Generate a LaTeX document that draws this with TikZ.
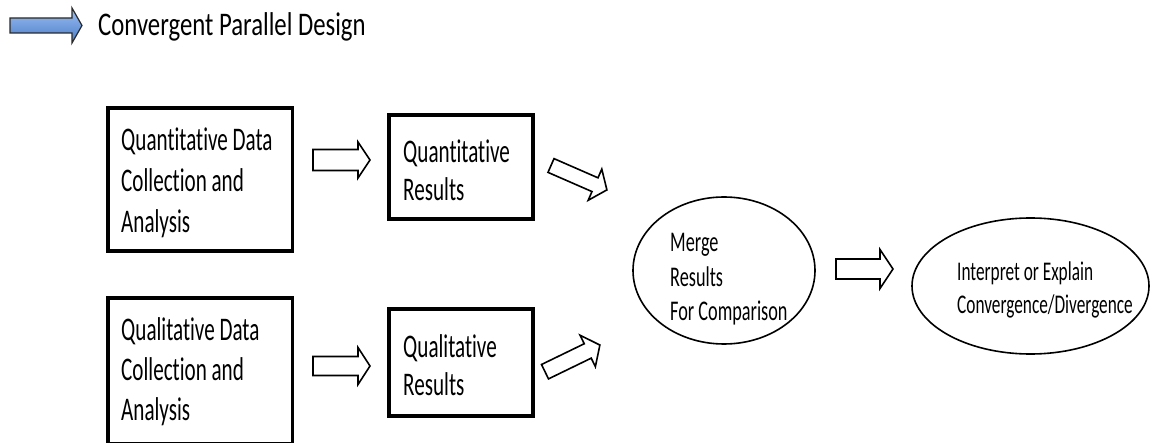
\documentclass[tikz,border=0pt]{standalone}
\usepackage{fontspec}
\usetikzlibrary{shapes.geometric}
\newfontfamily\cf[FakeStretch=0.64, Ligatures=NoCommon]{Carlito}
\newfontfamily\tf[FakeStretch=0.75, Ligatures=NoCommon]{Carlito}
\definecolor{arrowtop}{HTML}{9CC0F2}
\definecolor{arrowbot}{HTML}{4A7BC9}
\definecolor{arrowline}{HTML}{2A2A2A}
\newcommand\hollowarrow[6]{%
  \draw[harrowline, shift={(#1)}, rotate=#2]
    (0,-#4) -- ({#3-#6},-#4) -- ({#3-#6},-#5) -- (#3,0) --
    ({#3-#6},#5) -- ({#3-#6},#4) -- (0,#4) -- cycle;}
\begin{document}
\begin{tikzpicture}[x=1pt,y=-1pt,
  box/.style={draw, line width=3.5pt, inner sep=0pt},
  ell/.style={draw, ellipse, line width=1.6pt, inner sep=0pt},
  txt/.style={inner sep=0pt, align=left, anchor=west},
  boxtxt/.style={txt, font=\cf\fontsize{33}{41}\selectfont},
  harrowline/.style={draw, fill=white, line width=1.6pt, line join=miter},
]
\useasboundingbox (0,0) rectangle (1151,443);

% title
\shade[top color=arrowtop, bottom color=arrowbot, draw=arrowline, line width=1.2pt, line join=miter]
  (10,18) -- (72,18) -- (72,8) -- (82,25.5) -- (72,43) -- (72,33) -- (10,33) -- cycle;
\node[txt, font=\tf\fontsize{33}{40}\selectfont] (title) at (98,27) {Convergent Parallel Design};

% boxes
\node[box, minimum width=184.5pt, minimum height=143pt] (qd) at (200,179.5) {};
\node[boxtxt] (qdtext) at (121,183) {Quantitative Data\\Collection and\\Analysis};
\node[box, minimum width=184.5pt, minimum height=146pt] (ld) at (200,371) {};
\node[boxtxt, font=\cf\fontsize{33}{40}\selectfont] (ldtext) at (121,372) {Qualitative Data\\Collection and\\Analysis};
\node[box, minimum width=144pt, minimum height=104pt] (qr) at (461,167) {};
\node[boxtxt, font=\cf\fontsize{33}{38}\selectfont] (qrtext) at (403,170) {Quantitative\\Results};
\node[box, minimum width=144pt, minimum height=107pt] (lr) at (461,362.5) {};
\node[boxtxt, font=\cf\fontsize{33}{38}\selectfont] (lrtext) at (403,365) {Qualitative\\Results};

% ellipses
\node[ell, minimum width=182pt, minimum height=147pt] (merge) at (724,270.5) {};
\node[txt, font=\cf\fontsize{28.5}{34.5}\selectfont] (mergetext) at (670,279.5)
  {Merge\\Results\\For Comparison};
\node[ell, minimum width=237pt, minimum height=136pt] (interp) at (1030.5,286) {};
\node[txt, font=\cf\fontsize{27}{33}\selectfont] (interptext) at (957,289.5)
  {Interpret or Explain\\Convergence/Divergence};

% connector tails
\coordinate (a1) at (313,160);
\coordinate (a2) at (313,366);
\coordinate (a3) at (551,165.5);
\coordinate (a4) at (545,371.7);
\coordinate (a5) at (836,269);

\hollowarrow{a1}{0}{57}{10.5}{18}{12}
\hollowarrow{a2}{0}{57}{9.5}{18.5}{12}
\hollowarrow{a3}{-23.6}{61}{7.5}{17}{13}
\hollowarrow{a4}{25.9}{61}{8}{17.5}{13.5}
\hollowarrow{a5}{0}{57}{10}{19.5}{13}
\end{tikzpicture}
\end{document}
